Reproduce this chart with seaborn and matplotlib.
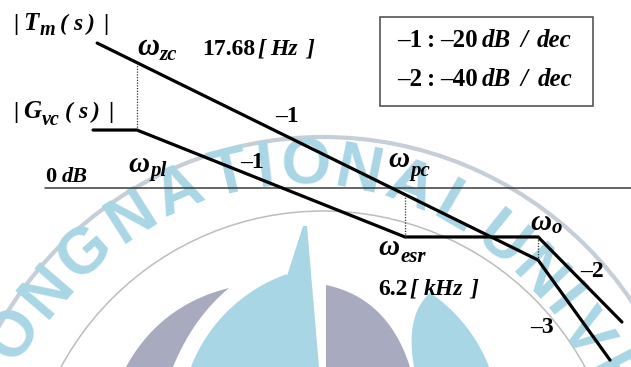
import numpy as np
import matplotlib
matplotlib.use("Agg")
import matplotlib.pyplot as plt
import seaborn as sns
from matplotlib.patches import Circle, Polygon, Rectangle
from matplotlib.textpath import TextPath
from matplotlib.font_manager import FontProperties

sns.set_style("white")

# ---- asymptotic magnitude sketch data (frequency in Hz, magnitude in dB) ----
f_zc = 17.68          # compensator zero
f_esr = 6.2e3         # output-capacitor ESR zero
f_o = 1.14e5          # LC double pole

tm_freq = [7.4, f_o, 5.49e5]
tm_db = [69.0, -34.3, -81.9]

gvc_freq = [6.76, f_zc, f_esr, f_o, 7.13e5]
gvc_db = [27.6, 27.6, -23.3, -23.3, -63.8]

slope_names = ["–1", "–2"]
slope_rates = ["–20", "–40"]

W, H = 631, 367
fig = plt.figure(figsize=(W / 100, H / 100), dpi=100)

# ---- background seal, drawn in pixel space ----
bg = fig.add_axes([0, 0, 1, 1], zorder=0)
bg.set_xlim(0, W)
bg.set_ylim(H, 0)
bg.axis("off")

WM_BLUE = "#a9d6e5"
WM_GRAY = "#a8aabf"
cx, cy = 323, 509
bg.add_patch(Circle((cx, cy), 372, fill=False, lw=3.0, ec="#c6ced8"))
bg.add_patch(Circle((cx, cy), 298, fill=False, lw=1.1, ec="#bdbdbd"))


def bez(p0, p1, p2, n=30):
    t = np.linspace(0, 1, n)[:, None]
    p0, p1, p2 = map(np.asarray, (p0, p1, p2))
    return (1 - t) ** 2 * p0 + 2 * (1 - t) * t * p1 + t ** 2 * p2


def arc_pts(c, r, a0, a1, n=40):
    a = np.radians(np.linspace(a0, a1, n))
    return np.column_stack([c[0] + r * np.cos(a), c[1] - r * np.sin(a)])


# left grey crescent
cres = np.vstack([bez((126, 367), (160, 305), (229, 288)),
                  bez((229, 288), (193, 318), (173, 367))])
bg.add_patch(Polygon(cres, closed=True, fc=WM_GRAY, ec="none"))

# blue dome with spire
dc, dr = (340, 425), 160
a_left = np.degrees(np.arccos((190 - dc[0]) / dr))
a_sh = np.degrees(np.arccos((287 - dc[0]) / dr))
dome = np.vstack([arc_pts(dc, dr, a_left, a_sh),
                  [[287, 276], [303, 226], [307, 226], [319, 367]]])
bg.add_patch(Polygon(dome, closed=True, fc=WM_BLUE, ec="none"))

# grey sail
sail = np.vstack([[[326, 367], [326, 285]],
                  bez((326, 285), (388, 298), (410, 367))])
bg.add_patch(Polygon(sail, closed=True, fc=WM_GRAY, ec="none"))

# right blue piece
a_r = np.degrees(np.arctan2(dc[1] - 367, 490 - dc[0]))
a_t = np.degrees(np.arccos((430 - dc[0]) / dr))
right = np.vstack([arc_pts(dc, dr, a_r, a_t, 30),
                   bez((430, 293), (405, 315), (414, 367))])
bg.add_patch(Polygon(right, closed=True, fc=WM_BLUE, ec="none"))

# ring lettering along an elliptical path
ring_text = "ONG NATIONAL UNIVE"
em_px = 64
fp = FontProperties(family="Liberation Sans", weight="bold")
ex0, ey0, ea, eb = 300, 635, 372, 468
track, word_gap = 13, 6

tt = np.linspace(-1.6, 1.6, 4000)
px_ = ex0 + ea * np.sin(tt)
py_ = ey0 - eb * np.cos(tt)
s_along = np.concatenate([[0], np.cumsum(np.hypot(np.diff(px_), np.diff(py_)))])

letters = [c for c in ring_text if c != " "]
after_space = [i > 0 and ring_text[i - 1] == " "
               for i, c in enumerate(ring_text) if c != " "]
widths = [TextPath((0, 0), c, size=em_px, prop=fp).get_extents().width
          for c in letters]
s_cur = np.interp(np.arcsin((15 - ex0) / ea), tt, s_along)
for i, ch in enumerate(letters):
    if i > 0:
        s_cur += (widths[i - 1] + widths[i]) / 2 + track
        if after_space[i]:
            s_cur += word_gap
    t = np.interp(s_cur, s_along, tt)
    x = ex0 + ea * np.sin(t)
    y = ey0 - eb * np.cos(t)
    rot = np.degrees(np.arctan2(-eb * np.sin(t), ea * np.cos(t)))
    bg.text(x, y, ch, fontproperties=fp, fontsize=em_px * 0.72, color=WM_BLUE,
            rotation=rot, rotation_mode="anchor", ha="center", va="center")

# ---- Bode asymptotes ----
ax = fig.add_axes([0, 0, 1, 1], zorder=1)
ax.patch.set_visible(False)
ax.set_xscale("log")
ax.set_xlim(0.884, 8.69e5)
ax.set_ylim(-85.2, 89.5)
ax.axis("off")

line_kw = dict(color="black", linewidth=2.3, sort=False, estimator=None,
               legend=False)
sns.lineplot(x=tm_freq, y=tm_db, ax=ax, **line_kw)
sns.lineplot(x=gvc_freq, y=gvc_db, ax=ax, **line_kw)
for ln in ax.lines:
    ln.set_solid_joinstyle("miter")

ax.axhline(0, xmin=45 / W, xmax=1, color="#3a3a3a", lw=1.1, zorder=0)


def mag(freqs, dbs, f):
    return np.interp(np.log10(f), np.log10(freqs), dbs)


for f in (f_zc, f_esr, f_o):
    ax.plot([f, f], [mag(gvc_freq, gvc_db, f), mag(tm_freq, tm_db, f)],
            ls=(0, (1, 1.2)), color="#333333", lw=0.9)

# ---- labels (Times-like bold serif), laid out piece by piece ----
SERIF = "Liberation Serif"
renderer = fig.canvas.get_renderer()


def run(x, y, pieces):
    """pieces: (text, size, italic, baseline shift px, gap after px)"""
    for s, size, italic, dy, gap in pieces:
        t = fig.text(x / W, 1 - (y + dy) / H, s, fontsize=size, family=SERIF,
                     weight="bold", style="italic" if italic else "normal",
                     ha="left", va="baseline", color="black")
        x = t.get_window_extent(renderer).x1 + gap


def bars(name, sub, sub_dy):
    return [("|", 17, False, 0, 5), (name, 18, True, 0, 1),
            (sub, 14.5, True, sub_dy, 5), ("(", 17, True, 0, 5),
            ("s", 17, True, 0, 5), (")", 17, True, 0, 8),
            ("|", 17, False, 0, 0)]


def omega(x, y, sub, sub_dy=5, size=21):
    run(x, y, [("ω", size, True, 0, 1), (sub, 15, True, sub_dy, 0)])


run(13, 30, bars("T", "m", 5))
run(13, 118, bars("G", "vc", 7))
run(45, 182, [("0", 16, False, 0, 6), ("dB", 16, True, 0, 0)])

omega(137, 55, "zc", size=22)
run(202, 55, [(f"{f_zc:.2f}", 17, False, 0, 2), ("[", 17, True, 0, 5),
              ("Hz", 17, True, 0, 9), ("]", 17, True, 0, 0)])
omega(128, 172, "pl", 4)
omega(388, 167, "pc", 9)
omega(378, 255, "esr", 7)
run(378, 295, [(f"{f_esr / 1e3:.1f}", 17, False, 0, 2), ("[", 17, True, 0, 6),
               ("kHz", 17, True, 0, 7), ("]", 17, True, 0, 0)])
omega(530, 230, "o", 3)

# slope tags
for x, y, s in [(275, 122, "–1"), (240, 168, "–1"),
                (580, 277, "–2"), (530, 333, "–3")]:
    run(x, y, [(s, 17, False, 0, 0)])

# slope legend box
fig.patches.append(Rectangle((380 / W, 1 - 106 / H), 213 / W, 89 / H,
                             transform=fig.transFigure, fill=False,
                             ec="#555555", lw=1.2))
for name, rate, yb in zip(slope_names, slope_rates, (47, 86)):
    run(397, yb, [(name, 18, False, 0, 5), (":", 18, False, 0, 5),
                  (rate, 18, False, 0, 4), ("dB", 18, True, 0, 9),
                  ("/", 18, True, 0, 10), ("dec", 18, True, 0, 0)])

fig.savefig("out.png", dpi=100)
